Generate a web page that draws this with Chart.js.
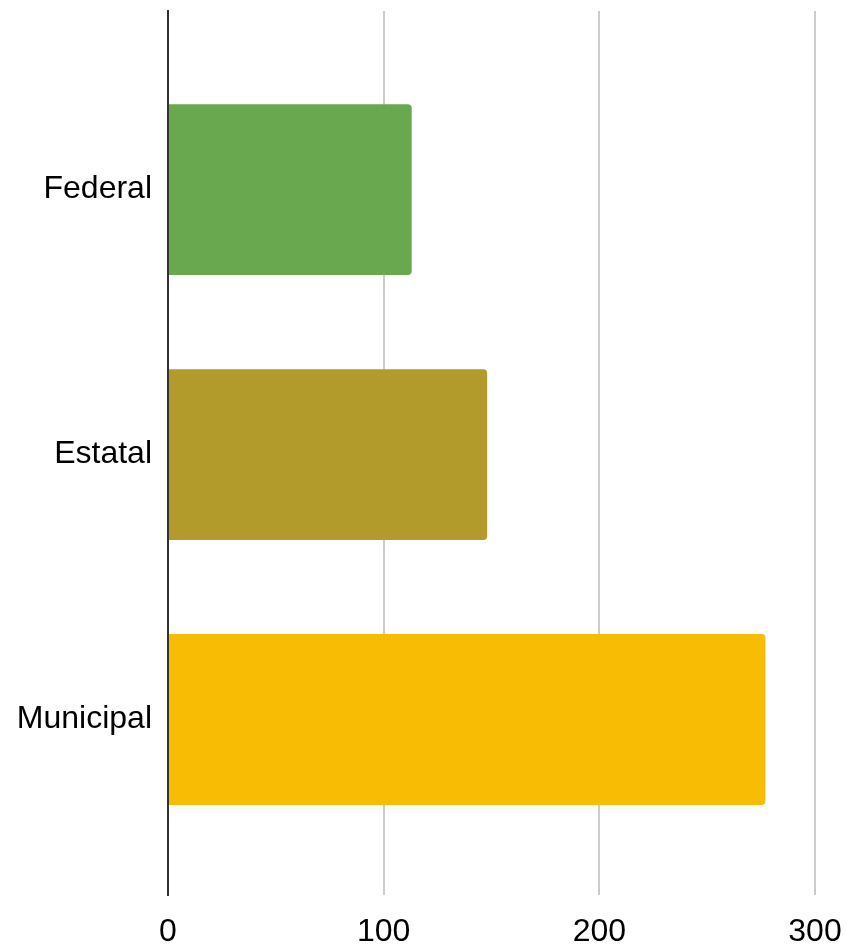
<!DOCTYPE html>
<html>
<head>
<meta charset="utf-8">
<script src="https://cdn.jsdelivr.net/npm/chart.js@4/dist/chart.umd.min.js"></script>
<style>
  html, body { margin: 0; padding: 0; background: #fff; }
  #wrap { width: 846px; height: 949px; }
</style>
</head>
<body>
<div id="wrap"><canvas id="grafico"></canvas></div>
<script>
const categories = ["Federal", "Estatal", "Municipal"];
const values = [113, 148, 277];
const barColors = ["#6aa84f", "#b29b2a", "#f9bc05"];
const xTicks = [0, 100, 200, 300];

const points = categories.map((c, i) => ({ x: values[i], y: i }));

new Chart(document.getElementById("grafico"), {
  type: "bar",
  data: {
    datasets: [{
      data: points,
      backgroundColor: barColors,
      borderRadius: 4,
      borderSkipped: "start",
      categoryPercentage: 1,
      barPercentage: 0.645
    }]
  },
  options: {
    indexAxis: "y",
    responsive: true,
    maintainAspectRatio: false,
    animation: false,
    layout: { padding: { top: 11, right: 31, left: 0, bottom: 0 } },
    plugins: { legend: { display: false }, tooltip: { enabled: false } },
    scales: {
      x: {
        type: "linear",
        min: 0,
        max: 300,
        afterBuildTicks: (s) => { s.ticks = xTicks.map(v => ({ value: v })); },
        afterFit: (s) => { s.height = 54; s.paddingLeft = 0; s.paddingRight = 0; },
        border: { display: false },
        grid: {
          color: (ctx) => ctx.tick && ctx.tick.value === 0 ? "rgba(0,0,0,0)" : "#cccccc",
          lineWidth: 2,
          drawTicks: false
        },
        ticks: {
          padding: 18,
          color: "#000",
          font: { family: "Liberation Sans, Arial", size: 32 }
        }
      },
      y: {
        type: "linear",
        offset: false,
        bounds: "data",
        reverse: true,
        min: -0.674,
        max: 2.662,
        afterBuildTicks: (s) => { s.ticks = categories.map((c, i) => ({ value: i })); },
        afterFit: (s) => { s.width = 168; s.paddingTop = 0; s.paddingBottom = 0; },
        border: { display: true, color: "#333333", width: 2 },
        grid: { display: false, drawTicks: false },
        ticks: {
          padding: 16,
          color: "#000",
          font: { family: "Liberation Sans, Arial", size: 32 },
          callback: (v) => categories[v] !== undefined ? categories[v] : ""
        }
      }
    }
  }
});
</script>
</body>
</html>
